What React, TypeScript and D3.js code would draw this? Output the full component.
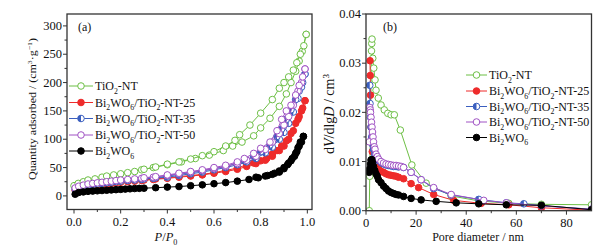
import React from "react";
import * as d3 from "d3";

type Pt = [number, number];

// ---------- Panel (a): N2 isotherms (P/P0, Quantity adsorbed) ----------
const tiAds: Pt[] = [[0.0,18],[0.018,22],[0.04,25],[0.06,28],[0.09,30],[0.12,33],[0.14,35],[0.17,37],[0.2,39],[0.23,41],[0.26,43],[0.29,46],[0.34,50],[0.40,55],[0.46,60],[0.52,66],[0.58,72],[0.64,80],[0.68,88],[0.72,95],[0.77,106],[0.80,120],[0.84,137],[0.88,158],[0.91,180],[0.93,200],[0.95,220],[0.965,238],[0.978,255],[0.995,285]];
const tiDes: Pt[] = [[0.995,285],[0.985,265],[0.97,250],[0.955,235],[0.94,222],[0.92,210],[0.9,200],[0.88,190],[0.85,170],[0.80,146],[0.754,125],[0.71,108],[0.69,98],[0.65,88],[0.6,78],[0.55,71],[0.5,65],[0.45,60],[0.4,56],[0.35,51],[0.3,47]];
const r25Ads: Pt[] = [[0.005,10],[0.02,13],[0.04,15],[0.06,17],[0.08,18],[0.1,19],[0.12,20],[0.14,21],[0.16,22],[0.18,23],[0.2,24],[0.23,25],[0.26,26],[0.29,27],[0.34,29],[0.4,31],[0.45,33],[0.5,35],[0.55,37],[0.6,40],[0.65,43],[0.7,47],[0.74,52],[0.78,57],[0.82,63],[0.85,70],[0.88,80],[0.9,88],[0.92,100],[0.94,115],[0.96,135],[0.975,150],[0.99,168]];
const r25Des: Pt[] = [[0.99,168],[0.98,155],[0.965,140],[0.95,128],[0.93,110],[0.91,97],[0.89,88],[0.87,80],[0.85,74],[0.826,66],[0.8,62],[0.77,58],[0.74,55],[0.7,49],[0.65,45],[0.6,41],[0.55,38],[0.5,36],[0.45,34],[0.4,32],[0.35,30],[0.3,28]];
const r35Ads: Pt[] = [[0.005,12],[0.02,15],[0.04,17],[0.06,19],[0.08,20],[0.1,21],[0.12,22],[0.14,23],[0.16,24],[0.18,25],[0.2,26],[0.23,27],[0.26,28],[0.29,29],[0.34,31],[0.4,33],[0.45,36],[0.5,39],[0.55,42],[0.6,46],[0.65,50],[0.7,55],[0.74,60],[0.78,66],[0.82,76],[0.85,86],[0.88,100],[0.9,112],[0.92,128],[0.94,148],[0.96,172],[0.975,192],[0.99,215]];
const r35Des: Pt[] = [[0.99,215],[0.98,200],[0.965,185],[0.95,170],[0.93,152],[0.91,135],[0.89,118],[0.87,105],[0.84,90],[0.8,78],[0.77,70],[0.73,62],[0.7,58],[0.65,52],[0.6,48],[0.55,44],[0.5,41],[0.45,38],[0.4,35],[0.35,32],[0.3,30]];
const r50Ads: Pt[] = [[0.005,14],[0.02,17],[0.04,19],[0.06,21],[0.08,22],[0.1,23],[0.12,24],[0.14,25],[0.16,26],[0.18,27],[0.2,28],[0.23,29],[0.26,30],[0.29,31],[0.34,33],[0.4,36],[0.45,39],[0.5,42],[0.55,45],[0.6,48],[0.65,52],[0.7,57],[0.74,63],[0.78,70],[0.82,82],[0.85,95],[0.88,110],[0.9,125],[0.92,140],[0.94,160],[0.96,185],[0.975,200],[0.99,224]];
const r50Des: Pt[] = [[0.99,224],[0.98,210],[0.965,195],[0.95,178],[0.93,160],[0.91,150],[0.89,135],[0.87,115],[0.84,95],[0.8,84],[0.77,75],[0.73,66],[0.7,60],[0.65,54],[0.6,50],[0.55,46],[0.5,43],[0.45,40],[0.4,37],[0.35,34],[0.3,32]];
const bwAds: Pt[] = [[0.005,3],[0.02,6],[0.04,7],[0.06,8],[0.08,8.5],[0.1,9],[0.12,9.5],[0.14,10],[0.16,10.5],[0.18,11],[0.2,11.5],[0.22,12],[0.24,12.5],[0.26,13],[0.28,13.3],[0.3,13.6],[0.35,14.5],[0.4,15.5],[0.45,16.5],[0.5,18],[0.55,19.5],[0.6,21.5],[0.65,23.5],[0.7,26],[0.75,29],[0.79,32],[0.83,36],[0.86,40],[0.88,44],[0.9,50],[0.92,58],[0.935,66],[0.95,75],[0.96,85],[0.97,95],[0.983,105]];
const bwDes: Pt[] = [[0.983,105],[0.975,95],[0.965,88],[0.955,78],[0.945,70],[0.93,62],[0.915,55],[0.9,48],[0.88,42],[0.85,38],[0.82,35],[0.78,33]];

// ---------- Panel (b): pore size distribution (nm, dV/dlgD) ----------
const tiPSD: Pt[] = [[1.3,0.0],[1.5,0.007],[2.2,0.0325],[2.3,0.034],[2.4,0.0349],[2.7,0.031],[3.1,0.029],[3.6,0.0266],[4.0,0.0245],[4.9,0.0229],[6.0,0.0215],[7.3,0.0205],[8.7,0.0198],[10,0.0195],[11.3,0.0195],[13.7,0.0164],[18.3,0.0093],[24,0.0056],[34,0.003],[45,0.002],[57,0.0015],[70,0.0013],[90,0.0012]];
const r25PSD: Pt[] = [[1.6,0.0305],[1.7,0.0275],[1.8,0.0235],[2.0,0.017],[2.2,0.014],[2.5,0.012],[3,0.0105],[3.5,0.0095],[4,0.009],[5,0.0085],[6,0.008],[7,0.0078],[8,0.0075],[9,0.0073],[10,0.0072],[11,0.0071],[12,0.007],[13,0.0068],[15,0.0065],[18,0.0055],[21,0.0047],[27,0.0033],[35,0.0021],[46,0.0015],[57,0.0012],[70,0.0006],[90,0.0001]];
const r35PSD: Pt[] = [[1.5,0.0255],[1.6,0.0218],[1.8,0.019],[2,0.017],[2.3,0.015],[2.6,0.0135],[3,0.0125],[3.5,0.0115],[4,0.0108],[5,0.0102],[6,0.0098],[7,0.0095],[8,0.0093],[9,0.0092],[10,0.0091],[11,0.009],[12,0.009],[13,0.0089],[15,0.0088],[18,0.0078],[22,0.0063],[27,0.0045],[34,0.0032],[45,0.0023],[56,0.0016],[63,0.0014],[70,0.001],[90,0.0003]];
const r50PSD: Pt[] = [[1.3,0.014],[1.5,0.021],[1.7,0.0205],[1.8,0.02],[2,0.019],[2.2,0.018],[2.4,0.017],[2.6,0.016],[2.8,0.015],[3,0.014],[3.3,0.013],[3.6,0.0125],[4,0.0115],[4.5,0.011],[5,0.0105],[6,0.01],[7,0.0097],[8,0.0095],[9,0.0094],[10,0.0093],[11,0.0092],[12,0.0092],[13,0.0091],[14,0.009],[15,0.0088],[18,0.0078],[22,0.0063],[27,0.0047],[34,0.0033],[47,0.0021],[56,0.0016],[70,0.001],[90,0.0003]];
const bwPSD: Pt[] = [[1.3,0.0078],[1.5,0.0085],[1.8,0.0095],[2.0,0.0103],[2.3,0.0104],[2.6,0.0098],[3,0.009],[3.5,0.0082],[4,0.0075],[4.5,0.007],[5,0.0063],[6,0.0057],[7,0.005],[8,0.0045],[9,0.004],[10,0.0037],[11,0.0035],[12,0.0033],[13,0.0032],[15,0.0029],[18,0.0025],[22,0.0022],[28,0.0019],[36,0.0016],[45,0.0014],[56,0.0012],[70,0.0011],[90,0.0002]];

const xTicksA = [0, 0.2, 0.4, 0.6, 0.8, 1.0];
const yTicksA = [0, 50, 100, 150, 200, 250, 300];
const xTicksB = [0, 20, 40, 60, 80];
const yTicksB = [0, 0.01, 0.02, 0.03, 0.04];

type Part = [string, string?];
const seriesNames: Part[][] = [
  [["TiO"], ["2", "sub"], ["-NT"]],
  [["Bi"], ["2", "sub"], ["WO"], ["6", "sub"], ["/TiO"], ["2", "sub"], ["-NT-25"]],
  [["Bi"], ["2", "sub"], ["WO"], ["6", "sub"], ["/TiO"], ["2", "sub"], ["-NT-35"]],
  [["Bi"], ["2", "sub"], ["WO"], ["6", "sub"], ["/TiO"], ["2", "sub"], ["-NT-50"]],
  [["Bi"], ["2", "sub"], ["WO"], ["6", "sub"]],
];
const colors = ["#6dbf45", "#ee2b2b", "#3b5fbf", "#a052c4", "#000000"];
const markerKind = ["open", "filled", "half", "open", "filled"];

const FONT = "Liberation Serif, Times New Roman, serif";
const TXT: React.CSSProperties = { fontFamily: FONT };

function Rich({ parts, size }: { parts: Part[]; size: number }) {
  const out: React.ReactNode[] = [];
  let shift = 0;
  parts.forEach(([t, k], i) => {
    let target = 0;
    let fs = size;
    let style: any = undefined;
    if (k === "sub") { target = size * 0.3; fs = size * 0.65; }
    else if (k === "sup") { target = -size * 0.38; fs = size * 0.65; }
    else if (k === "i") { style = "italic"; }
    const dy = target - shift;
    shift = target;
    out.push(
      <tspan key={i} dy={dy} fontSize={fs} fontStyle={style}>{t}</tspan>
    );
  });
  return <>{out}</>;
}

function Marker({ x, y, kind, color, r = 3.3 }: { x: number; y: number; kind: string; color: string; r?: number }) {
  if (kind === "filled") return <circle cx={x} cy={y} r={r} fill={color} stroke={color} strokeWidth={1} />;
  if (kind === "half")
    return (
      <g>
        <circle cx={x} cy={y} r={r} fill="#fff" stroke={color} strokeWidth={1} />
        <path d={`M${x},${y - r} A${r},${r} 0 0 0 ${x},${y + r} Z`} fill={color} />
      </g>
    );
  return <circle cx={x} cy={y} r={r} fill="#fff" stroke={color} strokeWidth={1} />;
}

function Series({ pts, x, y, color, kind, clip }: any) {
  const line = d3.line<Pt>().x((d) => x(d[0])).y((d) => y(d[1]));
  return (
    <g clipPath={`url(#${clip})`}>
      <path d={line(pts) || ""} fill="none" stroke={color} strokeWidth={1} />
      {pts.map((p: Pt, i: number) => (
        <Marker key={i} x={x(p[0])} y={y(p[1])} kind={kind} color={color} />
      ))}
    </g>
  );
}

function Frame({ x, y, xt, yt, xMinor, yMinor, xFmt, yFmt, fs }: any) {
  const [x0, x1] = x.range();
  const [y0, y1] = y.range();
  return (
    <g style={TXT} fontSize={fs} fill="#111">
      <rect x={x0} y={y1} width={x1 - x0} height={y0 - y1} fill="none" stroke="#333" strokeWidth={1.3} />
      {xt.map((t: number) => (
        <g key={"x" + t}>
          <line x1={x(t)} x2={x(t)} y1={y0} y2={y0 + 4} stroke="#333" strokeWidth={1} />
          <text x={x(t)} y={y0 + 16.5} textAnchor="middle">{xFmt(t)}</text>
        </g>
      ))}
      {xMinor.map((t: number) => (
        <line key={"xm" + t} x1={x(t)} x2={x(t)} y1={y0} y2={y0 + 2.5} stroke="#333" strokeWidth={1} />
      ))}
      {yt.map((t: number) => (
        <g key={"y" + t}>
          <line x1={x0} x2={x0 - 4} y1={y(t)} y2={y(t)} stroke="#333" strokeWidth={1} />
          <text x={x0 - 5} y={y(t) + 4.2} textAnchor="end">{yFmt(t)}</text>
        </g>
      ))}
      {yMinor.map((t: number) => (
        <line key={"ym" + t} x1={x0} x2={x0 - 2.5} y1={y(t)} y2={y(t)} stroke="#333" strokeWidth={1} />
      ))}
    </g>
  );
}

export default function App() {
  const xa = d3.scaleLinear().domain([-0.03, 1.02]).range([67, 312]);
  const ya = d3.scaleLinear().domain([-24, 321]).range([209.5, 14]);
  const xb = d3.scaleLinear().domain([0, 90]).range([366, 591.5]);
  const yb = d3.scaleLinear().domain([0, 0.04]).range([210.7, 14]);

  const isoA: Pt[][][] = [
    [tiAds, tiDes],
    [r25Ads, r25Des],
    [r35Ads, r35Des],
    [r50Ads, r50Des],
    [bwAds, bwDes],
  ];
  const psd = [tiPSD, r25PSD, r35PSD, r50PSD, bwPSD];

  const legA = { x0: 69, x1: 93, tx: 95, y: [86, 102.5, 118.5, 135, 151] };
  const legB = { x0: 466, x1: 487, tx: 489, y: [75, 91, 106.5, 122, 137.5] };

  return (
    <svg width={605} height={248} style={{ position: "absolute", left: 0, top: 0, background: "#fff" }}>
      <defs>
        <clipPath id="ca"><rect x={67} y={14} width={245} height={195.5} /></clipPath>
        <clipPath id="cb"><rect x={366} y={14} width={225.5} height={196.7} /></clipPath>
      </defs>

      {/* Panel (a) */}
      {isoA.map((branches, i) => (
        <g key={"a" + i}>
          {branches.map((pts, j) => (
            <Series key={j} pts={pts} x={xa} y={ya} color={colors[i]} kind={markerKind[i]} clip="ca" />
          ))}
        </g>
      ))}
      <Frame
        x={xa} y={ya} xt={xTicksA} yt={yTicksA} fs={12.5}
        xMinor={[0.1, 0.3, 0.5, 0.7, 0.9]} yMinor={[25, 75, 125, 175, 225, 275]}
        xFmt={(t: number) => t.toFixed(1)} yFmt={(t: number) => String(t)}
      />
      <text x={78} y={31} style={TXT} fontSize={12} fill="#111">(a)</text>
      {seriesNames.map((nm, i) => (
        <g key={"la" + i}>
          <line x1={legA.x0} x2={legA.x1} y1={legA.y[i]} y2={legA.y[i]} stroke={colors[i]} strokeWidth={1} />
          <Marker x={(legA.x0 + legA.x1) / 2} y={legA.y[i]} kind={markerKind[i]} color={colors[i]} />
          <text x={legA.tx} y={legA.y[i] + 4} style={TXT} fontSize={12} fill="#111">
            <Rich parts={nm} size={12} />
          </text>
        </g>
      ))}
      <text transform="translate(36,109) rotate(-90)" textAnchor="middle" style={TXT} fontSize={11} fill="#111"
        textLength={142} lengthAdjust="spacingAndGlyphs">
        <Rich parts={[["Quantity adsorbed / (cm"], ["3", "sup"], ["·g"], ["−1", "sup"], [")"]]} size={11} />
      </text>
      <text x={166} y={241} textAnchor="middle" style={TXT} fontSize={12.5} fill="#111">
        <Rich parts={[["P", "i"], ["/"], ["P", "i"], ["0", "sub"]]} size={12.5} />
      </text>

      {/* Panel (b) */}
      {psd.map((pts, i) => (
        <Series key={"b" + i} pts={pts} x={xb} y={yb} color={colors[i]} kind={markerKind[i]} clip="cb" />
      ))}
      <Frame
        x={xb} y={yb} xt={xTicksB} yt={yTicksB} fs={12.5}
        xMinor={[10, 30, 50, 70]} yMinor={[0.005, 0.015, 0.025, 0.035]}
        xFmt={(t: number) => String(t)} yFmt={(t: number) => t.toFixed(2)}
      />
      <text x={383} y={31} style={TXT} fontSize={12} fill="#111">(b)</text>
      {seriesNames.map((nm, i) => (
        <g key={"lb" + i}>
          <line x1={legB.x0} x2={legB.x1} y1={legB.y[i]} y2={legB.y[i]} stroke={colors[i]} strokeWidth={1} />
          <Marker x={(legB.x0 + legB.x1) / 2} y={legB.y[i]} kind={markerKind[i]} color={colors[i]} />
          <text x={legB.tx} y={legB.y[i] + 4} style={TXT} fontSize={12} fill="#111">
            <Rich parts={nm} size={12} />
          </text>
        </g>
      ))}
      <text transform="translate(334,114) rotate(-90)" textAnchor="middle" style={TXT} fontSize={14} fill="#111">
        <Rich parts={[["d"], ["V", "i"], ["/dlg"], ["D", "i"], [" / cm"], ["3", "sup"]]} size={14} />
      </text>
      <text x={478} y={241} textAnchor="middle" style={TXT} fontSize={12} fill="#111">Pore diameter / nm</text>
    </svg>
  );
}
